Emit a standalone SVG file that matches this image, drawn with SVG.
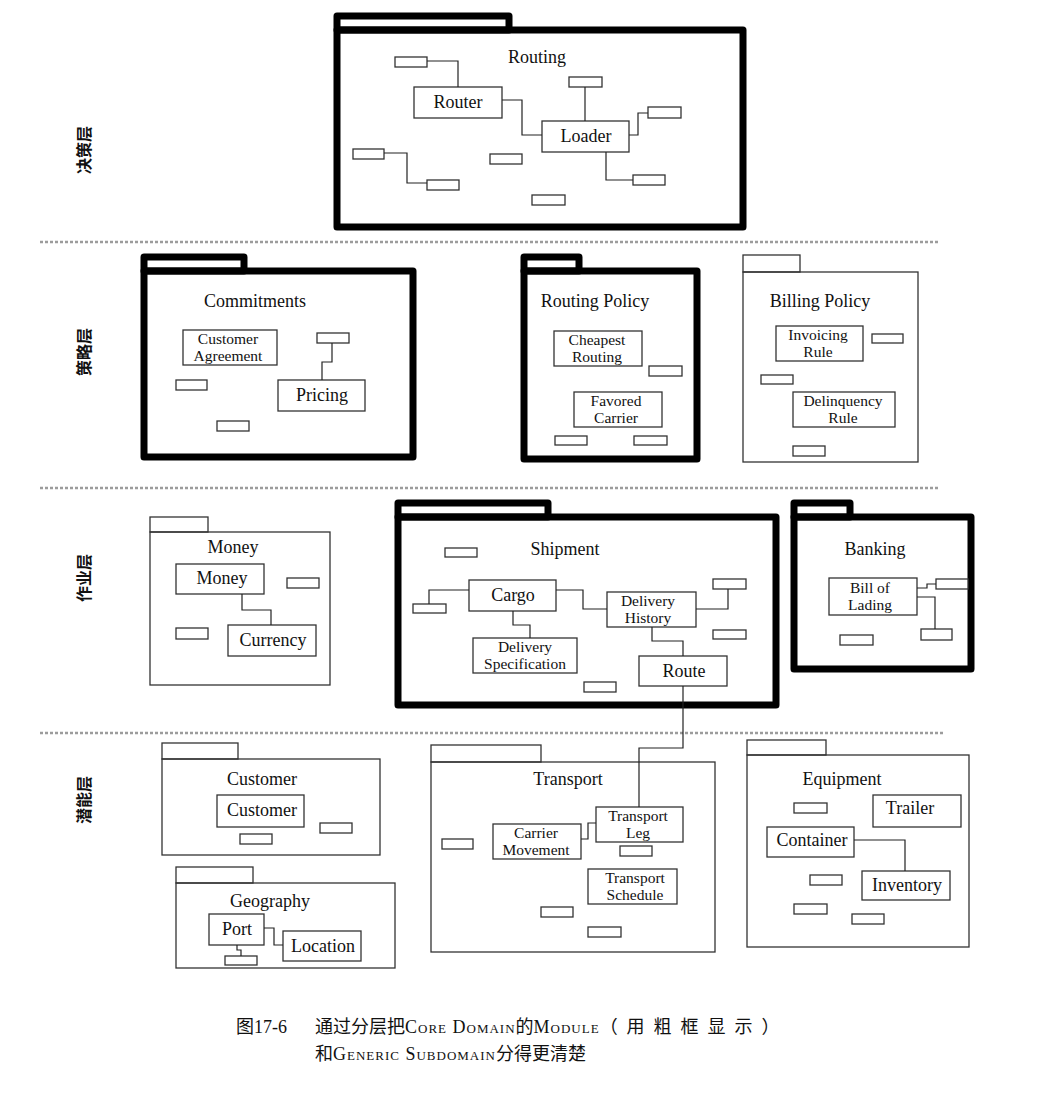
<svg xmlns="http://www.w3.org/2000/svg" width="1038" height="1112" viewBox="0 0 1038 1112">
<style>
.pkT{fill:none;stroke:#000;stroke-width:7;stroke-linejoin:round}
.pkt{fill:none;stroke:#333;stroke-width:1.3}
.c{fill:#fff;stroke:#333;stroke-width:1.3}
.s{fill:#fff;stroke:#333;stroke-width:1.3}
.ln{fill:none;stroke:#222;stroke-width:1.2}
.t{font-family:"Liberation Serif",serif;font-size:18px;text-anchor:middle;fill:#111}
.t2{font-family:"Liberation Serif",serif;font-size:15.5px;text-anchor:middle;fill:#111}
.dv{stroke:#9c9c9c;stroke-width:2.5;stroke-dasharray:3 2;fill:none}
.ly{font-family:"Noto Sans CJK SC",sans-serif;font-size:16px;font-weight:bold;text-anchor:middle;fill:#111}
.cap{font-family:"Liberation Serif","Noto Sans CJK SC",serif;font-size:18px;fill:#111}
.sc{font-variant:small-caps;letter-spacing:1px}
</style>
<rect width="1038" height="1112" fill="#fff"/>

<g id="dividers">
<line class="dv" x1="40" y1="242" x2="940" y2="242"/>
<line class="dv" x1="40" y1="488" x2="938" y2="488"/>
<line class="dv" x1="40" y1="733" x2="945" y2="733"/>
</g>

<g id="layer-labels">
<text class="ly" transform="translate(90,150) rotate(-90)">决策层</text>
<text class="ly" transform="translate(90,352) rotate(-90)">策略层</text>
<text class="ly" transform="translate(90,578) rotate(-90)">作业层</text>
<text class="ly" transform="translate(90,800) rotate(-90)">潜能层</text>
</g>

<g id="pkg-routing">
<rect class="pkT" x="337" y="16" width="172" height="14"/>
<rect class="pkT" x="337" y="30" width="406" height="197"/>
<text class="t" x="537" y="63">Routing</text>
<g id="cls-router"><rect class="c" x="414" y="87" width="88" height="31"/><text class="t" x="458" y="108">Router</text></g>
<g id="cls-loader"><rect class="c" x="542" y="121" width="87" height="31"/><text class="t" x="586" y="142">Loader</text></g>
<rect class="s" x="395" y="57" width="32" height="10"/>
<rect class="s" x="569" y="77" width="33" height="10"/>
<rect class="s" x="648" y="107" width="33" height="11"/>
<rect class="s" x="353" y="149" width="31" height="10"/>
<rect class="s" x="490" y="154" width="32" height="10"/>
<rect class="s" x="427" y="180" width="32" height="10"/>
<rect class="s" x="633" y="175" width="32" height="10"/>
<rect class="s" x="532" y="195" width="33" height="10"/>
</g>

<g id="pkg-commitments">
<rect class="pkT" x="144" y="257" width="100" height="14"/>
<rect class="pkT" x="144" y="271" width="269" height="186"/>
<text class="t" x="255" y="307">Commitments</text>
<g id="cls-customer-agreement"><rect class="c" x="183" y="330" width="94" height="35"/><text class="t2" x="228" y="344">Customer</text><text class="t2" x="228" y="361">Agreement</text></g>
<g id="cls-pricing"><rect class="c" x="278" y="380" width="87" height="31"/><text class="t" x="322" y="401">Pricing</text></g>
<rect class="s" x="317" y="333" width="32" height="10"/>
<rect class="s" x="176" y="380" width="31" height="10"/>
<rect class="s" x="217" y="421" width="32" height="10"/>
</g>

<g id="pkg-routing-policy">
<rect class="pkT" x="524" y="257" width="55" height="14"/>
<rect class="pkT" x="524" y="271" width="173" height="188"/>
<text class="t" x="595" y="307">Routing Policy</text>
<g id="cls-cheapest-routing"><rect class="c" x="554" y="331" width="88" height="35"/><text class="t2" x="597" y="345">Cheapest</text><text class="t2" x="597" y="362">Routing</text></g>
<g id="cls-favored-carrier"><rect class="c" x="574" y="392" width="88" height="35"/><text class="t2" x="616" y="406">Favored</text><text class="t2" x="616" y="423">Carrier</text></g>
<rect class="s" x="649" y="366" width="33" height="10"/>
<rect class="s" x="555" y="436" width="32" height="9"/>
<rect class="s" x="634" y="436" width="33" height="9"/>
</g>

<g id="pkg-billing-policy">
<rect class="pkt" x="743" y="255" width="57" height="17"/>
<rect class="pkt" x="743" y="272" width="175" height="190"/>
<text class="t" x="820" y="307">Billing Policy</text>
<g id="cls-invoicing-rule"><rect class="c" x="776" y="326" width="87" height="35"/><text class="t2" x="818" y="340">Invoicing</text><text class="t2" x="818" y="357">Rule</text></g>
<g id="cls-delinquency-rule"><rect class="c" x="793" y="392" width="102" height="35"/><text class="t2" x="843" y="406">Delinquency</text><text class="t2" x="843" y="423">Rule</text></g>
<rect class="s" x="872" y="334" width="31" height="9"/>
<rect class="s" x="761" y="375" width="32" height="9"/>
<rect class="s" x="793" y="446" width="32" height="10"/>
</g>

<g id="pkg-money">
<rect class="pkt" x="150" y="517" width="58" height="15"/>
<rect class="pkt" x="150" y="532" width="180" height="153"/>
<text class="t" x="233" y="553">Money</text>
<g id="cls-money"><rect class="c" x="176" y="564" width="88" height="30"/><text class="t" x="222" y="584">Money</text></g>
<g id="cls-currency"><rect class="c" x="228" y="625" width="88" height="31"/><text class="t" x="273" y="646">Currency</text></g>
<rect class="s" x="287" y="578" width="32" height="10"/>
<rect class="s" x="176" y="628" width="32" height="11"/>
</g>

<g id="pkg-shipment">
<rect class="pkT" x="398" y="503" width="150" height="14"/>
<rect class="pkT" x="398" y="517" width="378" height="188"/>
<text class="t" x="565" y="555">Shipment</text>
<g id="cls-cargo"><rect class="c" x="469" y="580" width="87" height="31"/><text class="t" x="513" y="601">Cargo</text></g>
<g id="cls-delivery-history"><rect class="c" x="607" y="592" width="89" height="35"/><text class="t2" x="648" y="606">Delivery</text><text class="t2" x="648" y="623">History</text></g>
<g id="cls-delivery-specification"><rect class="c" x="473" y="638" width="104" height="35"/><text class="t2" x="525" y="652">Delivery</text><text class="t2" x="525" y="669">Specification</text></g>
<g id="cls-route"><rect class="c" x="639" y="656" width="88" height="30"/><text class="t" x="684" y="677">Route</text></g>
<rect class="s" x="445" y="548" width="32" height="9"/>
<rect class="s" x="413" y="604" width="33" height="9"/>
<rect class="s" x="713" y="579" width="33" height="10"/>
<rect class="s" x="713" y="630" width="33" height="9"/>
<rect class="s" x="584" y="682" width="32" height="10"/>
</g>

<g id="pkg-banking">
<rect class="pkT" x="794" y="503" width="56" height="14"/>
<rect class="pkT" x="794" y="517" width="177" height="152"/>
<text class="t" x="875" y="555">Banking</text>
<g id="cls-bill-of-lading"><rect class="c" x="829" y="578" width="88" height="37"/><text class="t2" x="870" y="593">Bill of</text><text class="t2" x="870" y="610">Lading</text></g>
<rect class="s" x="936" y="579" width="32" height="10"/>
<rect class="s" x="921" y="629" width="31" height="11"/>
<rect class="s" x="840" y="635" width="33" height="10"/>
</g>

<g id="pkg-customer">
<rect class="pkt" x="162" y="743" width="76" height="16"/>
<rect class="pkt" x="162" y="759" width="218" height="96"/>
<text class="t" x="262" y="785">Customer</text>
<g id="cls-customer"><rect class="c" x="217" y="795" width="87" height="32"/><text class="t" x="262" y="816">Customer</text></g>
<rect class="s" x="320" y="823" width="32" height="10"/>
<rect class="s" x="240" y="834" width="32" height="10"/>
</g>

<g id="pkg-geography">
<rect class="pkt" x="176" y="867" width="77" height="16"/>
<rect class="pkt" x="176" y="883" width="219" height="85"/>
<text class="t" x="270" y="907">Geography</text>
<g id="cls-port"><rect class="c" x="209" y="914" width="55" height="31"/><text class="t" x="237" y="935">Port</text></g>
<g id="cls-location"><rect class="c" x="283" y="931" width="78" height="30"/><text class="t" x="323" y="952">Location</text></g>
<rect class="s" x="225" y="956" width="32" height="9"/>
</g>

<g id="pkg-transport">
<rect class="pkt" x="431" y="745" width="110" height="17"/>
<rect class="pkt" x="431" y="762" width="284" height="190"/>
<text class="t" x="568" y="785">Transport</text>
<g id="cls-transport-leg"><rect class="c" x="596" y="807" width="87" height="35"/><text class="t2" x="638" y="821">Transport</text><text class="t2" x="638" y="838">Leg</text></g>
<g id="cls-carrier-movement"><rect class="c" x="493" y="824" width="88" height="35"/><text class="t2" x="536" y="838">Carrier</text><text class="t2" x="536" y="855">Movement</text></g>
<g id="cls-transport-schedule"><rect class="c" x="588" y="869" width="89" height="35"/><text class="t2" x="635" y="883">Transport</text><text class="t2" x="635" y="900">Schedule</text></g>
<rect class="s" x="442" y="839" width="31" height="10"/>
<rect class="s" x="620" y="846" width="32" height="10"/>
<rect class="s" x="541" y="907" width="32" height="10"/>
<rect class="s" x="588" y="927" width="33" height="10"/>
</g>

<g id="pkg-equipment">
<rect class="pkt" x="747" y="740" width="79" height="15"/>
<rect class="pkt" x="747" y="755" width="222" height="192"/>
<text class="t" x="842" y="785">Equipment</text>
<g id="cls-trailer"><rect class="c" x="873" y="795" width="88" height="32"/><text class="t" x="910" y="814">Trailer</text></g>
<g id="cls-container"><rect class="c" x="767" y="827" width="87" height="30"/><text class="t" x="812" y="846">Container</text></g>
<g id="cls-inventory"><rect class="c" x="862" y="871" width="88" height="29"/><text class="t" x="907" y="891">Inventory</text></g>
<rect class="s" x="794" y="803" width="33" height="10"/>
<rect class="s" x="810" y="875" width="32" height="10"/>
<rect class="s" x="794" y="904" width="33" height="10"/>
<rect class="s" x="852" y="914" width="32" height="10"/>
</g>

<g id="connectors">
<polyline class="ln" points="427,61 458,61 458,87"/>
<polyline class="ln" points="502,100 522,100 522,135 542,135"/>
<polyline class="ln" points="585,87 585,121"/>
<polyline class="ln" points="629,135 638,135 638,113 648,113"/>
<polyline class="ln" points="384,153 407,153 407,183 427,183"/>
<polyline class="ln" points="606,152 606,180 633,180"/>
<polyline class="ln" points="332,343 332,362 322,362 322,380"/>
<polyline class="ln" points="242,594 242,610 271,610 271,625"/>
<polyline class="ln" points="469,590 429,590 429,604"/>
<polyline class="ln" points="556,590 583,590 583,609 607,609"/>
<polyline class="ln" points="696,609 728,609 728,589"/>
<polyline class="ln" points="652,627 652,641 683,641 683,656"/>
<polyline class="ln" points="513,611 513,625 530,625 530,638"/>
<polyline class="ln" points="683,686 683,748 639,748 639,807"/>
<polyline class="ln" points="917,588 927,588 927,584 936,584"/>
<polyline class="ln" points="917,597 935,597 935,629"/>
<polyline class="ln" points="264,928 274,928 274,945 283,945"/>
<polyline class="ln" points="237,945 237,950 241,950 241,956"/>
<polyline class="ln" points="581,839 588,839 588,823 596,823"/>
<polyline class="ln" points="854,840 905,840 905,871"/>
</g>

<g id="caption">
<text class="cap" x="236" y="1033">图17-6<tspan x="315">通过分层把</tspan><tspan class="sc">Core Domain</tspan>的<tspan class="sc">Module</tspan><tspan letter-spacing="9">（用粗框显示）</tspan></text>
<text class="cap" x="315" y="1060">和<tspan class="sc">Generic Subdomain</tspan>分得更清楚</text>
</g>
</svg>
